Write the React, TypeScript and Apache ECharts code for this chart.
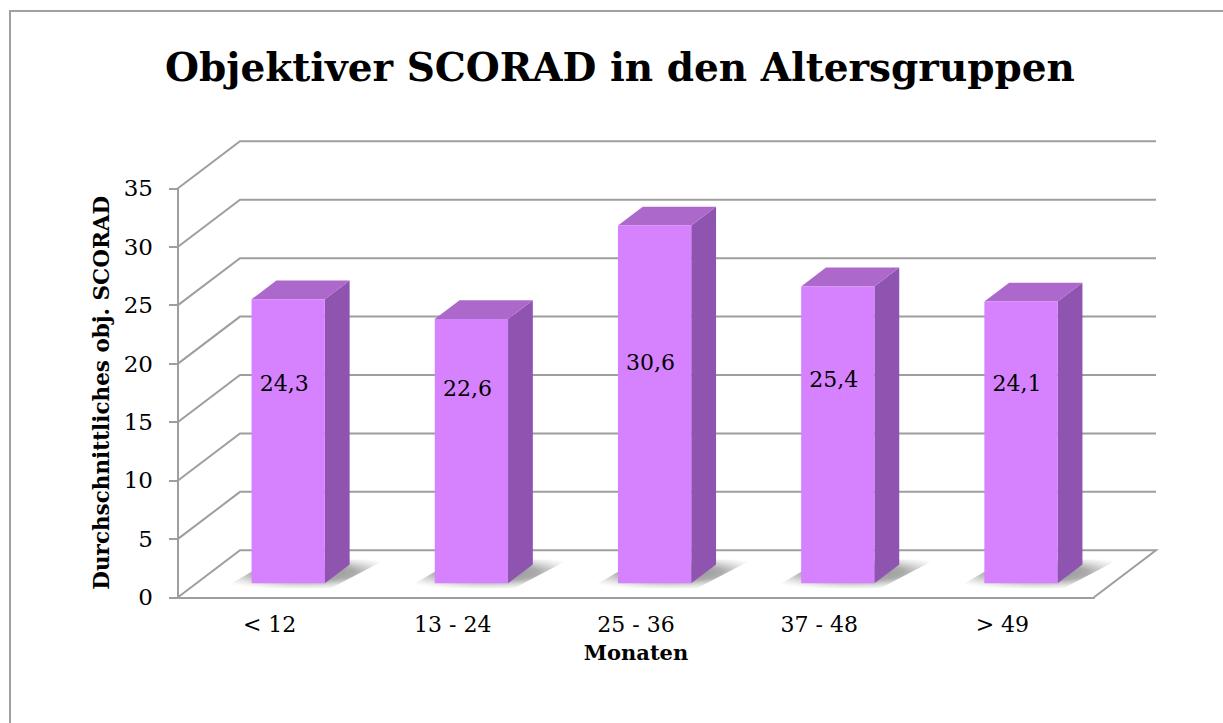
import React, { useEffect, useRef } from "react";
import * as echarts from "echarts";

const categories = ["< 12", "13 - 24", "25 - 36", "37 - 48", "> 49"];
const values = [24.3, 22.6, 30.6, 25.4, 24.1];
const yTicks = [0, 5, 10, 15, 20, 25, 30, 35];

const TITLE = "Objektiver SCORAD in den Altersgruppen";
const Y_NAME = "Durchschnittliches obj. SCORAD";
const X_NAME = "Monaten";

const FONT = "'DejaVu Serif', serif";
const GRID_COLOR = "#9e9e9e";
const DEPTH_X = 62;
const DEPTH_Y = -47;
const BAR_FRONT = 0.3;
const BAR_DEPTH = 0.4;
const BAR_WIDTH = 0.4;

export default function App() {
  const ref = useRef<HTMLDivElement>(null);
  useEffect(() => {
    if (!ref.current) return;
    const chart = echarts.init(ref.current, null, { renderer: "svg" });

    const wallItem = (params: any, api: any) => {
      const v = api.value(1);
      const cs = params.coordSys;
      const y = api.coord([0, v])[1];
      const x0 = cs.x;
      const x1 = cs.x + cs.width;
      const pts: number[][] = [
        [x0, y],
        [x0 + DEPTH_X, y + DEPTH_Y],
        [x1 + DEPTH_X, y + DEPTH_Y],
      ];
      if (v === 0) pts.push([x1, y]);
      return {
        type: "polyline",
        shape: { points: pts },
        style: { stroke: GRID_COLOR, lineWidth: 2, fill: "none" },
      };
    };

    const barItem = (params: any, api: any) => {
      const i = api.value(0);
      const v = api.value(1);
      const base = api.coord([i, 0]);
      const top = api.coord([i, v]);
      const band = api.size([1, 0])[0];
      const ox = BAR_FRONT * DEPTH_X;
      const oy = BAR_FRONT * DEPTH_Y;
      const dx = BAR_DEPTH * DEPTH_X;
      const dy = BAR_DEPTH * DEPTH_Y;
      const xl = base[0] - (BAR_WIDTH / 2) * band + ox;
      const xr = base[0] + (BAR_WIDTH / 2) * band + ox;
      const yb = base[1] + oy;
      const yt = top[1] + oy;
      const labelY = api.coord([i, 10.3 + 0.28 * v])[1] + oy;
      const shadowFill = {
        type: "radial",
        x: 0.5,
        y: 0.45,
        r: 0.62,
        colorStops: [
          { offset: 0, color: "rgba(50,50,50,0.6)" },
          { offset: 0.5, color: "rgba(70,70,70,0.45)" },
          { offset: 0.78, color: "rgba(110,110,110,0.18)" },
          { offset: 1, color: "rgba(140,140,140,0)" },
        ],
      };
      return {
        type: "group",
        children: [
          {
            type: "polygon",
            shape: {
              points: [
                [xl - 28, yb + 5],
                [xr + 6, yb + 5],
                [xr + dx + 36, yb + dy - 5],
                [xl + dx - 4, yb + dy - 5],
              ],
            },
            style: { fill: shadowFill },
          },
          {
            type: "polygon",
            shape: {
              points: [
                [xr, yt],
                [xr + dx, yt + dy],
                [xr + dx, yb + dy],
                [xr, yb],
              ],
            },
            style: { fill: "#8e54b0" },
          },
          {
            type: "polygon",
            shape: {
              points: [
                [xl, yt],
                [xl + dx, yt + dy],
                [xr + dx, yt + dy],
                [xr, yt],
              ],
            },
            style: { fill: "#ad68cc" },
          },
          {
            type: "rect",
            shape: { x: xl, y: yt, width: xr - xl, height: yb - yt },
            style: { fill: "#d682ff" },
          },
          {
            type: "text",
            style: {
              text: String(v).replace(".", ","),
              x: (xl + xr) / 2 - 4,
              y: labelY,
              fill: "#000",
              font: `22px ${FONT}`,
              align: "center",
              verticalAlign: "middle",
            },
          },
        ],
      };
    };

    chart.setOption({
      animation: false,
      backgroundColor: "#fff",
      title: {
        text: TITLE,
        left: 620,
        top: 47,
        textAlign: "center",
        padding: 0,
        textStyle: {
          fontFamily: FONT,
          fontSize: 39,
          fontWeight: "bold",
          color: "#000",
        },
      },
      graphic: [
        {
          type: "rect",
          shape: { x: 10, y: 11, width: 1240, height: 740 },
          style: { fill: "none", stroke: "#a0a0a0", lineWidth: 2 },
          silent: true,
        },
      ],
      grid: { left: 178, right: 129, top: 188.3, bottom: 125.7 },
      xAxis: {
        type: "category",
        data: categories,
        name: X_NAME,
        nameLocation: "middle",
        nameGap: 45,
        nameTextStyle: {
          fontFamily: FONT,
          fontSize: 21,
          fontWeight: "bold",
          color: "#000",
        },
        axisLine: { show: true, lineStyle: { color: GRID_COLOR, width: 2 } },
        axisTick: { show: false },
        axisLabel: {
          fontFamily: FONT,
          fontSize: 22,
          color: "#000",
          margin: 16,
        },
        splitLine: { show: false },
      },
      yAxis: {
        type: "value",
        min: 0,
        max: 35,
        interval: 5,
        name: Y_NAME,
        nameLocation: "middle",
        nameRotate: 90,
        nameGap: 64,
        nameTextStyle: {
          fontFamily: FONT,
          fontSize: 21.5,
          fontWeight: "bold",
          color: "#000",
        },
        axisLine: { show: true, lineStyle: { color: GRID_COLOR, width: 2 } },
        axisTick: { show: true, length: 9, lineStyle: { color: GRID_COLOR, width: 2 } },
        axisLabel: {
          fontFamily: FONT,
          fontSize: 23,
          color: "#000",
          margin: 25,
        },
        splitLine: { show: false },
      },
      series: [
        {
          type: "custom",
          name: "wall",
          renderItem: wallItem,
          data: yTicks.map((t) => [0, t]),
          silent: true,
          z: 1,
        },
        {
          type: "custom",
          name: "SCORAD",
          renderItem: barItem,
          data: values.map((v, i) => [i, v]),
          z: 3,
        },
      ],
    });
    return () => chart.dispose();
  }, []);
  return (
    <div
      ref={ref}
      style={{ position: "absolute", left: 0, top: 0, width: 1223, height: 723 }}
    />
  );
}
